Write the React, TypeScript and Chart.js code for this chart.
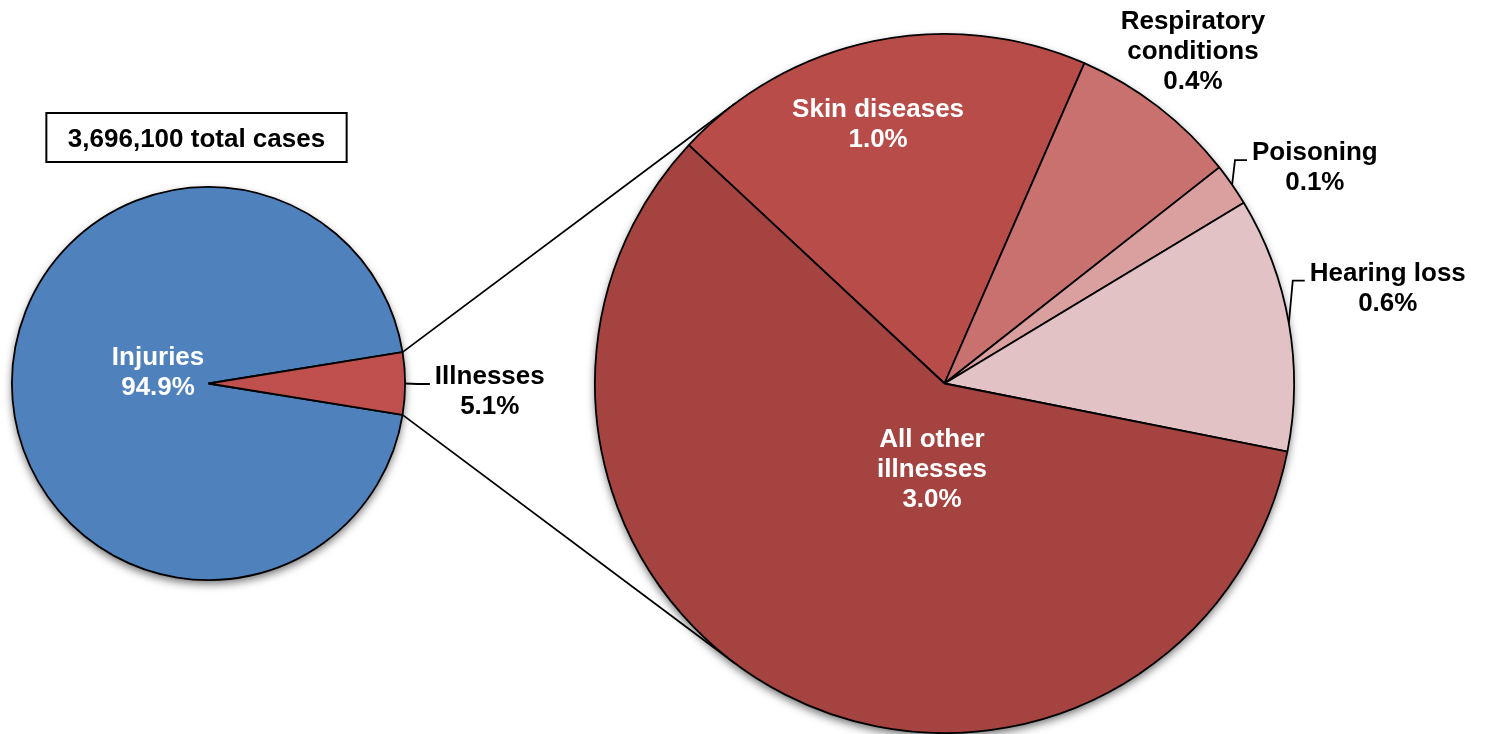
import { useEffect, useRef } from "react";
import { Chart, PieController, ArcElement, Plugin } from "chart.js";

Chart.register(PieController, ArcElement);

const WIDTH = 1485;
const HEIGHT = 734;
const FONT = 'bold 26px "Liberation Sans", Arial, sans-serif';
const LINE_HEIGHT = 30;
const STROKE = 1.8;

// All recordable cases, split into injuries and illnesses
const overviewCategories = ["Injuries", "Illnesses"];
const overviewValues = [94.9, 5.1];
const overviewColors = ["#4F81BD", "#C0504D"];

// Illnesses broken down by type (shares of all cases)
const illnessCategories = ["Skin diseases", "Respiratory conditions", "Poisoning", "Hearing loss", "All other illnesses"];
const illnessValues = [1.0, 0.4, 0.1, 0.6, 3.0];
const illnessColors = ["#B84C49", "#C8716F", "#D9A09F", "#E2C2C4", "#A54341"];

const totalCases = "3,696,100 total cases";

// Wrapped label text per slice (the percentage line is appended from the value)
const overviewLabelLines = [["Injuries"], ["Illnesses"]];
const illnessLabelLines = [["Skin diseases"], ["Respiratory", "conditions"], ["Poisoning"], ["Hearing loss"], ["All other", "illnesses"]];

type LabelSpot = { dx: number; dy: number; inside: boolean; leader: boolean };

// Label block centres, relative to the pie centre in units of its radius
const overviewLabelSpots: LabelSpot[] = [
  { dx: -0.2567, dy: -0.0635, inside: true, leader: false },
  { dx: 1.4308, dy: 0.033, inside: false, leader: true },
];
const illnessLabelSpots: LabelSpot[] = [
  { dx: -0.19, dy: -0.745, inside: true, leader: false },
  { dx: 0.7105, dy: -0.9535, inside: false, leader: false },
  { dx: 1.0593, dy: -0.6219, inside: false, leader: true },
  { dx: 1.268, dy: -0.2773, inside: false, leader: true },
  { dx: -0.0357, dy: 0.2416, inside: true, leader: false },
];

const sum = (a: number[]) => a.reduce((s, v) => s + v, 0);

function sliceLabels(lines: string[][], spots: LabelSpot[]): Plugin {
  return {
    id: "sliceLabels",
    afterDatasetsDraw(chart) {
      const ctx = chart.ctx;
      const meta = chart.getDatasetMeta(0);
      const values = chart.data.datasets[0].data as number[];
      meta.data.forEach((el: any, i: number) => {
        const { x, y, outerRadius, startAngle, endAngle } = el;
        const spot = spots[i];
        const cx = x + spot.dx * outerRadius;
        const cy = y + spot.dy * outerRadius;
        const text = [...lines[i], values[i].toFixed(1) + "%"];
        ctx.save();
        ctx.font = FONT;
        ctx.fillStyle = spot.inside ? "#FFFFFF" : "#000000";
        ctx.textAlign = "center";
        ctx.textBaseline = "alphabetic";
        const top = cy - ((text.length - 1) * LINE_HEIGHT) / 2;
        text.forEach((t, k) => ctx.fillText(t, cx, top + k * LINE_HEIGHT + 9));
        if (spot.leader) {
          const w = Math.max(...text.map((t) => ctx.measureText(t).width));
          const endX = cx - w / 2 - 5;
          const ly = cy - 6;
          const mid = (startAngle + endAngle) / 2;
          ctx.beginPath();
          ctx.moveTo(x + outerRadius * Math.cos(mid), y + outerRadius * Math.sin(mid));
          ctx.lineTo(endX - 12, ly);
          ctx.lineTo(endX, ly);
          ctx.strokeStyle = "#000000";
          ctx.lineWidth = STROKE;
          ctx.stroke();
        }
        ctx.restore();
      });
    },
  };
}

// Soft drop shadow under the whole pie
const pieShadow: Plugin = {
  id: "pieShadow",
  beforeDatasetsDraw(chart) {
    const el: any = chart.getDatasetMeta(0).data[0];
    if (!el) return;
    const ctx = chart.ctx;
    ctx.save();
    ctx.shadowColor = "rgba(0,0,0,0.55)";
    ctx.shadowBlur = 8;
    ctx.shadowOffsetY = 4;
    ctx.fillStyle = "#000000";
    ctx.beginPath();
    ctx.arc(el.x, el.y, el.outerRadius, 0, Math.PI * 2);
    ctx.fill();
    ctx.restore();
  },
};

// Box with the total number of cases, above the overview pie
const totalBox: Plugin = {
  id: "totalBox",
  afterDraw(chart) {
    const el: any = chart.getDatasetMeta(0).data[0];
    if (!el) return;
    const ctx = chart.ctx;
    const cx = el.x - 12;
    const cy = el.y - 246;
    ctx.save();
    ctx.font = FONT;
    const w = ctx.measureText(totalCases).width + 43;
    const h = 49;
    ctx.fillStyle = "#FFFFFF";
    ctx.fillRect(cx - w / 2, cy - h / 2, w, h);
    ctx.strokeStyle = "#000000";
    ctx.lineWidth = 2;
    ctx.strokeRect(cx - w / 2, cy - h / 2, w, h);
    ctx.fillStyle = "#000000";
    ctx.textAlign = "center";
    ctx.textBaseline = "alphabetic";
    ctx.fillText(totalCases, cx, cy + 9.5);
    ctx.restore();
  },
};

// Lines from the illnesses slice edges to tangent points of the breakdown pie
function connectors(getSource: () => Chart | null): Plugin {
  return {
    id: "connectors",
    beforeDatasetsDraw(chart) {
      const src = getSource();
      if (!src) return;
      const srcArc: any = src.getDatasetMeta(0).data[1];
      const dst: any = chart.getDatasetMeta(0).data[0];
      if (!srcArc || !dst) return;
      const r = dst.outerRadius;
      const ctx = chart.ctx;
      ctx.save();
      ctx.strokeStyle = "#000000";
      ctx.lineWidth = STROKE;
      [srcArc.startAngle, srcArc.endAngle].forEach((a: number, k: number) => {
        const px = srcArc.x + srcArc.outerRadius * Math.cos(a);
        const py = srcArc.y + srcArc.outerRadius * Math.sin(a);
        const dx = px - dst.x;
        const dy = py - dst.y;
        const d = Math.hypot(dx, dy);
        const theta = Math.atan2(dy, dx);
        const alpha = Math.acos(Math.min(1, r / d));
        const t = k === 0 ? theta + alpha : theta - alpha;
        ctx.beginPath();
        ctx.moveTo(px, py);
        ctx.lineTo(dst.x + r * Math.cos(t), dst.y + r * Math.sin(t));
        ctx.stroke();
      });
      ctx.restore();
    },
  };
}

export default function App() {
  const leftRef = useRef<HTMLCanvasElement>(null);
  const rightRef = useRef<HTMLCanvasElement>(null);

  useEffect(() => {
    document.body.style.margin = "0";
    const overviewTotal = sum(overviewValues);
    // centre the illnesses slice on the right-hand side (90°)
    const overviewRotation = 90 - (360 * (overviewValues[0] + overviewValues[1] / 2)) / overviewTotal;

    const left = new Chart(leftRef.current!, {
      type: "pie",
      data: {
        labels: overviewCategories,
        datasets: [
          {
            data: overviewValues,
            backgroundColor: overviewColors,
            borderColor: "#000000",
            borderWidth: STROKE,
          },
        ],
      },
      options: {
        responsive: false,
        animation: false,
        events: [],
        rotation: overviewRotation,
        layout: { padding: { left: 11, top: 186, right: WIDTH - 406, bottom: HEIGHT - 581 } },
        plugins: { legend: { display: false }, tooltip: { enabled: false } } as any,
      },
      plugins: [pieShadow, sliceLabels(overviewLabelLines, overviewLabelSpots), totalBox],
    });

    const right = new Chart(rightRef.current!, {
      type: "pie",
      data: {
        labels: illnessCategories,
        datasets: [
          {
            data: illnessValues,
            backgroundColor: illnessColors,
            borderColor: "#000000",
            borderWidth: STROKE,
          },
        ],
      },
      options: {
        responsive: false,
        animation: false,
        events: [],
        rotation: -47,
        layout: { padding: { left: 594, top: 33, right: WIDTH - 1295, bottom: 0 } },
        plugins: { legend: { display: false }, tooltip: { enabled: false } } as any,
      },
      plugins: [connectors(() => left), pieShadow, sliceLabels(illnessLabelLines, illnessLabelSpots)],
    });

    return () => {
      right.destroy();
      left.destroy();
    };
  }, []);

  return (
    <div style={{ position: "relative", width: WIDTH, height: HEIGHT, background: "#FFFFFF", overflow: "hidden" }}>
      <canvas ref={leftRef} width={WIDTH} height={HEIGHT} style={{ position: "absolute", left: 0, top: 0 }} />
      <canvas ref={rightRef} width={WIDTH} height={HEIGHT} style={{ position: "absolute", left: 0, top: 0 }} />
    </div>
  );
}
